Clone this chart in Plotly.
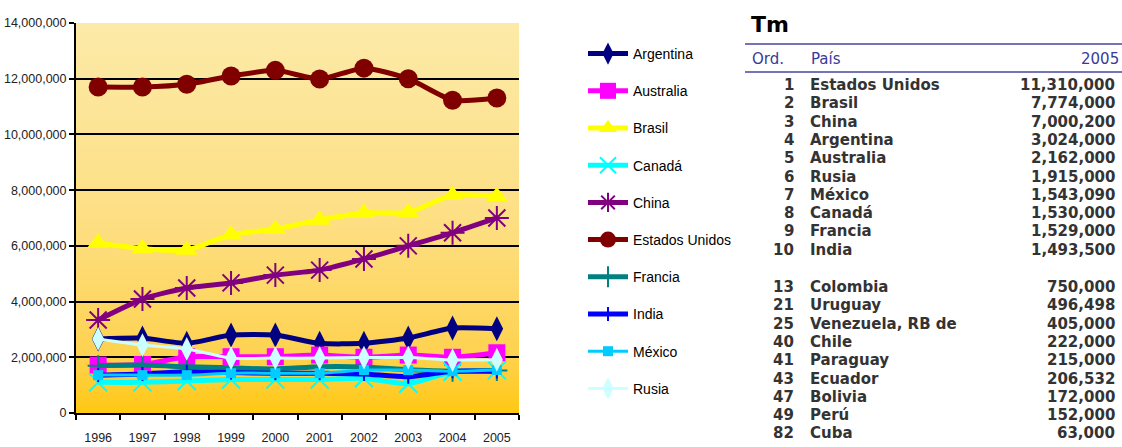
import base64
import plotly.graph_objects as go

# ---- chart data: annual production (Tm), 1996-2005 ----
years = ["1996", "1997", "1998", "1999", "2000", "2001", "2002", "2003", "2004", "2005"]

argentina = [2660000, 2690000, 2500000, 2800000, 2800000, 2500000, 2500000, 2690000, 3050000, 3024000]
australia = [1720000, 1740000, 2020000, 2020000, 2020000, 2080000, 2000000, 2080000, 2000000, 2162000]
brasil = [6100000, 5900000, 5850000, 6400000, 6600000, 6930000, 7180000, 7200000, 7820000, 7774000]
canada = [1100000, 1100000, 1150000, 1200000, 1200000, 1200000, 1250000, 1050000, 1480000, 1530000]
china = [3340000, 4090000, 4490000, 4670000, 4950000, 5130000, 5530000, 6000000, 6470000, 7000200]
estados_unidos = [11700000, 11700000, 11800000, 12100000, 12300000, 11990000, 12380000, 12000000, 11230000, 11310000]
francia = [1700000, 1720000, 1660000, 1620000, 1580000, 1660000, 1650000, 1550000, 1500000, 1529000]
india = [1360000, 1400000, 1480000, 1450000, 1430000, 1430000, 1400000, 1300000, 1500000, 1493500]
mexico = [1360000, 1360000, 1360000, 1430000, 1430000, 1430000, 1540000, 1540000, 1500000, 1543090]
rusia = [2660000, 2440000, 2300000, 1970000, 1970000, 1970000, 1990000, 1990000, 1900000, 1915000]

# ---- ranking table (2005) ----
table_title = "Tm"
table_header = ["Ord.", "País", "2005"]
top_rank = [1, 2, 3, 4, 5, 6, 7, 8, 9, 10]
top_country = ["Estados Unidos", "Brasil", "China", "Argentina", "Australia",
               "Rusia", "México", "Canadá", "Francia", "India"]
top_value = [11310000, 7774000, 7000200, 3024000, 2162000,
             1915000, 1543090, 1530000, 1529000, 1493500]
other_rank = [13, 21, 25, 40, 41, 43, 47, 49, 82]
other_country = ["Colombia", "Uruguay", "Venezuela, RB de", "Chile", "Paraguay",
                 "Ecuador", "Bolivia", "Perú", "Cuba"]
other_value = [750000, 496498, 405000, 222000, 215000, 206532, 172000, 152000, 63000]

# ---- series styling ----
series = [
    # name, values, color, symbol, marker size, line width, open symbol
    ("Argentina", argentina, "#000080", "diamond-tall", 18, 5, False),
    ("Australia", australia, "#FF00FF", "square", 17, 5, False),
    ("Brasil", brasil, "#FFFF00", "triangle-up", 19, 5, False),
    ("Canadá", canada, "#00FFFF", "x-thin-open", 18, 5, True),
    ("China", china, "#800080", "asterisk-open", 20, 5, True),
    ("Estados Unidos", estados_unidos, "#800000", "circle", 19, 5, False),
    ("Francia", francia, "#008080", "cross-thin-open", 15, 5, True),
    ("India", india, "#0000FF", "line-ns-open", 10, 5, True),
    ("México", mexico, "#00CCFF", "square", 10, 3, False),
    ("Rusia", rusia, "#CCFFFF", "diamond-tall", 17, 3, False),
]

chart_font = "Liberation Sans, Arial, sans-serif"
wide = "DejaVu Sans, Verdana, sans-serif"

fig = go.Figure()
for name, vals, color, sym, msize, lw, is_open in series:
    marker = dict(symbol=sym, size=msize, color=color)
    if is_open:
        marker["line"] = dict(color=color, width=2)
    else:
        marker["line"] = dict(width=0)
    fig.add_trace(go.Scatter(
        x=years, y=vals, name=name, legendgroup=name,
        mode="lines+markers",
        line=dict(color=color, width=lw, shape="spline", smoothing=0.6),
        marker=marker,
    ))

# plot-area geometry in pixels (used to place the side table)
W, H = 1122, 447
PL, PR, PT, PB = 76, 519, 23, 413


def fx(px):
    return (px - PL) / (PR - PL)


def fy(py):
    return (PB - py) / (PB - PT)


# gradient background for the plotting area
svg = (
    '<svg xmlns="http://www.w3.org/2000/svg" width="10" height="100" preserveAspectRatio="none">'
    '<defs><linearGradient id="g" x1="0" y1="0" x2="0" y2="1">'
    '<stop offset="0" stop-color="#FCEAA8"/>'
    '<stop offset="0.5" stop-color="#FDDF84"/>'
    '<stop offset="0.85" stop-color="#FED250"/>'
    '<stop offset="1" stop-color="#FFC812"/>'
    '</linearGradient></defs>'
    '<rect width="10" height="100" fill="url(#g)"/></svg>'
)
bg_src = "data:image/svg+xml;base64," + base64.b64encode(svg.encode()).decode()

annotations = []
shapes = []

# table title
annotations.append(dict(text="<b>" + table_title + "</b>", x=fx(749), y=fy(25), xref="paper", yref="paper",
                        xanchor="left", yanchor="middle", showarrow=False,
                        font=dict(family=wide, size=22, color="#000000")))
# header rules
for yy in (44, 72):
    shapes.append(dict(type="line", xref="paper", yref="paper", x0=fx(745), x1=fx(1122),
                       y0=fy(yy), y1=fy(yy), line=dict(color="#7474B8", width=2)))
# header labels
hdr_font = dict(family=wide, size=15, color="#3A3A9A")
annotations.append(dict(text=table_header[0], x=fx(750), y=fy(59), xanchor="left"))
annotations.append(dict(text=table_header[1], x=fx(809), y=fy(59), xanchor="left"))
annotations.append(dict(text=table_header[2], x=fx(1121), y=fy(59), xanchor="right"))
for a in annotations[-3:]:
    a.update(xref="paper", yref="paper", yanchor="middle", showarrow=False, font=hdr_font)

row_font = dict(family=wide, size=15, color="#333333", weight="bold")
ROW_H = 18.3


def add_rows(ranks, countries, values, y_first):
    for i, (r, c, v) in enumerate(zip(ranks, countries, values)):
        yy = fy(y_first + i * ROW_H)
        common = dict(xref="paper", yref="paper", y=yy, yanchor="middle",
                      showarrow=False, font=row_font)
        annotations.append(dict(text=str(r), x=fx(796), xanchor="right", **common))
        annotations.append(dict(text=c, x=fx(808), xanchor="left", **common))
        annotations.append(dict(text=f"{v:,}", x=fx(1117), xanchor="right", **common))


add_rows(top_rank, top_country, top_value, 85)
add_rows(other_rank, other_country, other_value, 287)

fig.update_layout(
    width=W, height=H,
    margin=dict(l=PL, r=W - PR, t=PT, b=H - PB, pad=0, autoexpand=False),
    paper_bgcolor="#FFFFFF",
    plot_bgcolor="rgba(0,0,0,0)",
    images=[dict(source=bg_src, xref="paper", yref="paper", x=0, y=1, sizex=1, sizey=1,
                 xanchor="left", yanchor="top", sizing="stretch", layer="below")],
    showlegend=True,
    legend=dict(x=fx(583), y=fy(38), xanchor="left", yanchor="top",
                traceorder="grouped", tracegroupgap=16, itemwidth=40,
                maxheight=0.98,
                bgcolor="rgba(0,0,0,0)", borderwidth=0,
                font=dict(family=chart_font, size=14, color="#000000")),
    annotations=annotations,
    shapes=shapes,
    font=dict(family=chart_font, color="#222222"),
)

fig.update_xaxes(
    type="category", range=[-0.5, 9.5], automargin=False,
    showline=True, linecolor="#000000", linewidth=2,
    ticks="outside", tickson="boundaries", ticklen=5, tickwidth=2, tickcolor="#000000",
    showgrid=False, ticklabelstandoff=12,
    tickfont=dict(family=chart_font, size=12.5, color="#222222"),
)
fig.update_yaxes(
    range=[0, 14000000], dtick=2000000, tickformat=",d", automargin=False,
    showline=True, linecolor="#000000", linewidth=2,
    ticks="outside", ticklen=5, tickwidth=2, tickcolor="#000000",
    showgrid=True, gridcolor="#000000", gridwidth=2,
    zeroline=False,
    tickfont=dict(family=chart_font, size=12.5, color="#222222"),
)

fig.write_html("out.html")
